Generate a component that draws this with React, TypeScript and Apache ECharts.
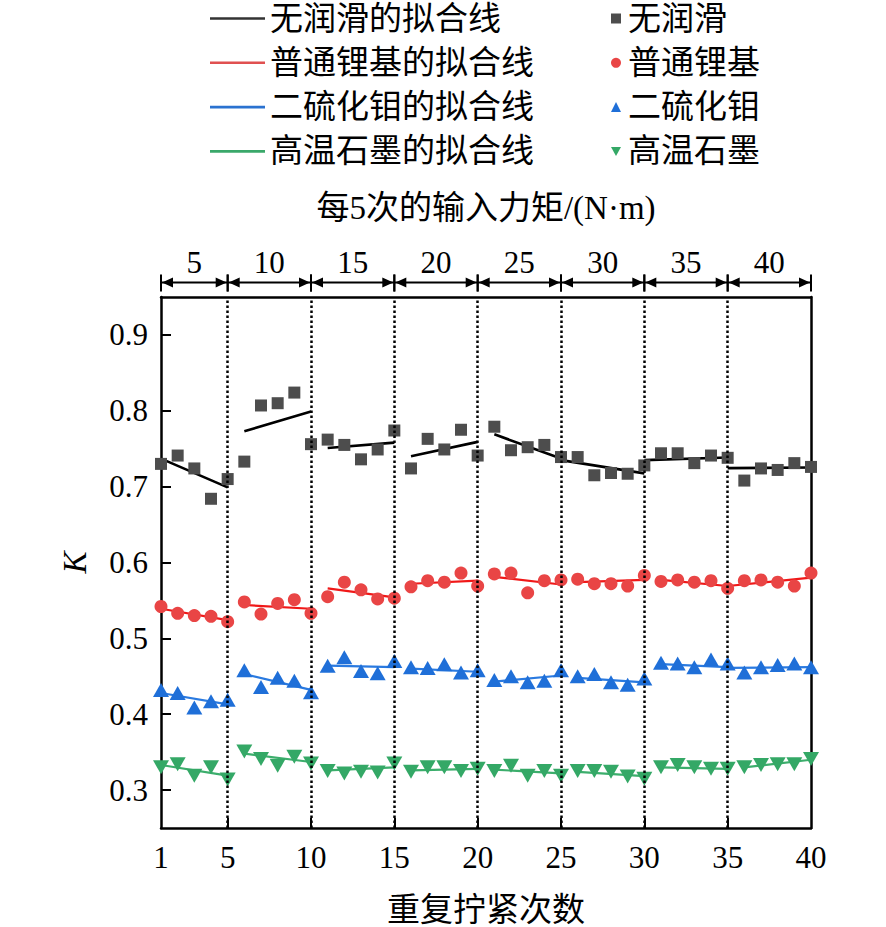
import React, { useEffect, useRef } from "react";
import * as echarts from "echarts";

// ---------- data ----------
const seriesNames = ["无润滑", "普通锂基", "二硫化钼", "高温石墨"];
const fitNames = ["无润滑的拟合线", "普通锂基的拟合线", "二硫化钼的拟合线", "高温石墨的拟合线"];

const tightenCount = Array.from({ length: 40 }, (_, i) => i + 1);

const noLube = [
  0.730, 0.741, 0.724, 0.684, 0.710, 0.733, 0.807, 0.810, 0.824, 0.756,
  0.762, 0.755, 0.736, 0.749, 0.774, 0.724, 0.763, 0.749, 0.775, 0.741,
  0.779, 0.748, 0.752, 0.755, 0.739, 0.739, 0.715, 0.718, 0.717, 0.728,
  0.744, 0.744, 0.731, 0.741, 0.738, 0.708, 0.724, 0.722, 0.731, 0.726,
];
const lithium = [
  0.542, 0.533, 0.530, 0.529, 0.522, 0.548, 0.532, 0.546, 0.551, 0.533,
  0.555, 0.574, 0.564, 0.552, 0.553, 0.568, 0.576, 0.574, 0.586, 0.569,
  0.585, 0.586, 0.560, 0.576, 0.577, 0.578, 0.572, 0.572, 0.569, 0.583,
  0.575, 0.577, 0.574, 0.576, 0.566, 0.576, 0.577, 0.574, 0.569, 0.586,
];
const mos2 = [
  0.432, 0.428, 0.409, 0.417, 0.419, 0.458, 0.436, 0.448, 0.444, 0.429,
  0.464, 0.475, 0.457, 0.454, 0.470, 0.462, 0.461, 0.466, 0.455, 0.458,
  0.445, 0.450, 0.442, 0.444, 0.458, 0.450, 0.453, 0.442, 0.439, 0.447,
  0.468, 0.467, 0.462, 0.472, 0.467, 0.455, 0.462, 0.465, 0.467, 0.462,
];
const graphite = [
  0.330, 0.334, 0.319, 0.330, 0.314, 0.351, 0.341, 0.332, 0.344, 0.335,
  0.325, 0.322, 0.324, 0.323, 0.335, 0.324, 0.330, 0.330, 0.325, 0.328,
  0.325, 0.332, 0.319, 0.325, 0.319, 0.325, 0.325, 0.324, 0.318, 0.315,
  0.330, 0.333, 0.330, 0.328, 0.328, 0.330, 0.333, 0.334, 0.334, 0.341,
];

// fit segments: [xStart, yStart, xEnd, yEnd]
const noLubeFit = [
  [1, 0.737, 5, 0.699], [6, 0.773, 10, 0.799], [11, 0.751, 15, 0.758], [16, 0.740, 20, 0.759],
  [21, 0.769, 25, 0.737], [25, 0.735, 30, 0.7175], [30, 0.735, 35, 0.7385], [35, 0.7244, 40, 0.7253],
];
const lithiumFit = [
  [1, 0.539, 5, 0.524], [6, 0.544, 10, 0.539], [11, 0.566, 15, 0.554], [16, 0.572, 20, 0.576],
  [21, 0.581, 25, 0.571], [26, 0.574, 30, 0.577], [31, 0.577, 35, 0.569], [35, 0.569, 40, 0.580],
];
const mos2Fit = [
  [1, 0.428, 5, 0.413], [6, 0.453, 10, 0.432], [11, 0.464, 15, 0.462], [16, 0.460, 20, 0.456],
  [21, 0.443, 25, 0.451], [26, 0.448, 30, 0.442], [31, 0.466, 35, 0.462], [35, 0.461, 40, 0.462],
];
const graphiteFit = [
  [1, 0.333, 5, 0.319], [6, 0.348, 10, 0.337], [11, 0.326, 15, 0.330], [16, 0.326, 20, 0.328],
  [21, 0.327, 25, 0.322], [26, 0.324, 30, 0.3185], [31, 0.330, 35, 0.328], [36, 0.330, 40, 0.340],
];

// top axis groups (input torque per 5 tightenings)
const groupBounds = [[1, 5], [5, 10], [10, 15], [15, 20], [20, 25], [25, 30], [30, 35], [35, 40]];
const groupTorques = ["5", "10", "15", "20", "25", "30", "35", "40"];
const dividerX = [5, 10, 15, 20, 25, 30, 35];

const xTickLabels = [1, 5, 10, 15, 20, 25, 30, 35, 40];
const xTicks = [5, 10, 15, 20, 25, 30, 35];
const yTickLabels = [0.3, 0.4, 0.5, 0.6, 0.7, 0.8, 0.9];
const X_MIN = 1, X_MAX = 40, Y_MIN = 0.25, Y_MAX = 0.95;

// ---------- styles ----------
const FONT = "'Liberation Serif', 'Noto Sans CJK SC', serif";
const scatterColors = ["#4d4d4d", "#e94545", "#1f6fd8", "#34a866"];
const fitColors = ["#000000", "#f01818", "#2a7ae0", "#3cae6c"];
const legendLineColors = ["#333333", "#e05050", "#2a72d0", "#3aa86a"];
const symbols = ["rect", "circle", "triangle", "triangle"];
const legendSymbols = ["rect", "circle", "triangle", "path://M0,0 L10,0 L5,9 Z"];
const symbolSizes: any[] = [12, 13, [16, 14], [16, 14]];
const symbolRotates = [0, 0, 0, 180];

function toLineData(segs: number[][]) {
  const out: any[] = [];
  segs.forEach((s) => {
    out.push([s[0], s[1]]);
    out.push([s[2], s[3]]);
    out.push([s[2], "-"]);
  });
  return out;
}

export default function App() {
  const ref = useRef<HTMLDivElement>(null);
  useEffect(() => {
    const chart = echarts.init(ref.current!, null, { renderer: "svg" });
    const values = [noLube, lithium, mos2, graphite];
    const fits = [noLubeFit, lithiumFit, mos2Fit, graphiteFit];

    const fitSeries = fits.map((f, i) => ({
      name: fitNames[i],
      type: "line",
      data: toLineData(f),
      symbol: "none",
      connectNulls: false,
      lineStyle: { color: fitColors[i], width: i === 0 ? 2.6 : 2.2 },
      itemStyle: { color: legendLineColors[i] },
      z: 3,
      silent: true,
    }));

    const scatterSeries = values.map((v, i) => ({
      name: seriesNames[i],
      type: "scatter",
      data: v.map((y, j) => [tightenCount[j], y]),
      symbol: symbols[i],
      symbolSize: symbolSizes[i],
      symbolRotate: symbolRotates[i],
      itemStyle: { color: scatterColors[i], opacity: 1 },
      z: 4,
      silent: true,
    }));

    const dimSeries = {
      type: "custom",
      name: "groups",
      data: groupBounds,
      encode: { x: [0, 1] },
      clip: false,
      silent: true,
      z: 5,
      renderItem: (params: any, api: any) => {
        const p1 = api.coord([api.value(0), Y_MAX]);
        const p2 = api.coord([api.value(1), Y_MAX]);
        const x1 = p1[0];
        const x2 = p2[0];
        const ly = p1[1] - 14.5;
        const st = { stroke: "#000", lineWidth: 2 };
        return {
          type: "group",
          children: [
            { type: "line", shape: { x1: x1, y1: ly, x2: x2, y2: ly }, style: st },
            { type: "line", shape: { x1: x1, y1: ly - 8, x2: x1, y2: ly + 9 }, style: st },
            { type: "line", shape: { x1: x2, y1: ly - 8, x2: x2, y2: ly + 9 }, style: st },
            { type: "polygon", shape: { points: [[x1 + 1, ly], [x1 + 12, ly - 5], [x1 + 12, ly + 5]] }, style: { fill: "#000" } },
            { type: "polygon", shape: { points: [[x2 - 1, ly], [x2 - 12, ly - 5], [x2 - 12, ly + 5]] }, style: { fill: "#000" } },
            {
              type: "text",
              style: {
                text: groupTorques[params.dataIndex],
                x: (x1 + x2) / 2,
                y: ly - 20,
                align: "center",
                verticalAlign: "middle",
                fontSize: 31,
                fontFamily: FONT,
                fill: "#000",
              },
            },
          ],
        };
      },
      markLine: {
        silent: true,
        symbol: "none",
        label: { show: false },
        lineStyle: { color: "#000", width: 2.5, type: [2.5, 2.5] },
        data: dividerX.map((x) => ({ xAxis: x })),
      },
    };

    const legendText = { fontSize: 33, lineHeight: 32, fontFamily: FONT, color: "#000" };

    const option: any = {
      animation: false,
      backgroundColor: "#fff",
      grid: { left: 161, right: 75, top: 297, bottom: 99, containLabel: false, outerBoundsMode: "none" },
      legend: [
        {
          data: fitNames.map((n) => ({ name: n, icon: "rect" })),
          orient: "vertical",
          left: 205,
          top: -3,
          itemWidth: 55,
          itemHeight: 2.6,
          itemGap: 11.3,
          selectedMode: false,
          textStyle: { ...legendText, padding: [0, 0, 0, 0] },
        },
        {
          data: seriesNames.map((n, i) => ({ name: n, icon: legendSymbols[i] })),
          orient: "vertical",
          left: 606,
          top: -3,
          itemWidth: 10,
          itemHeight: 10,
          itemGap: 11.3,
          selectedMode: false,
          textStyle: { ...legendText, padding: [0, 0, 0, 2] },
        },
      ],
      xAxis: [
        {
          type: "value",
          position: "bottom",
          min: X_MIN,
          max: X_MAX,
          axisLine: { show: true, lineStyle: { color: "#000", width: 2.5 } },
          axisTick: { show: true, inside: true, length: 10, customValues: xTicks, lineStyle: { color: "#000", width: 2 } },
          axisLabel: { customValues: xTickLabels, fontSize: 31, fontFamily: FONT, color: "#000", margin: 14 },
          splitLine: { show: false },
          name: "重复拧紧次数",
          nameLocation: "middle",
          nameGap: 65,
          nameTextStyle: { fontSize: 33, fontFamily: FONT, color: "#000" },
        },
        {
          type: "value",
          position: "top",
          min: X_MIN,
          max: X_MAX,
          axisLine: { show: true, lineStyle: { color: "#000", width: 2.5 } },
          axisTick: { show: false },
          axisLabel: { show: false },
          splitLine: { show: false },
          name: "每5次的输入力矩/(N·m)",
          nameLocation: "middle",
          nameGap: 73,
          nameTextStyle: { fontSize: 33, fontFamily: FONT, color: "#000" },
        },
      ],
      yAxis: [
        {
          type: "value",
          position: "left",
          min: Y_MIN,
          max: Y_MAX,
          axisLine: { show: true, lineStyle: { color: "#000", width: 2.5 } },
          axisTick: { show: true, inside: true, length: 10, customValues: yTickLabels, lineStyle: { color: "#000", width: 2 } },
          axisLabel: {
            customValues: yTickLabels,
            fontSize: 31,
            fontFamily: FONT,
            color: "#000",
            margin: 13,
            formatter: (v: number) => v.toFixed(1),
          },
          splitLine: { show: false },
          name: "K",
          nameLocation: "middle",
          nameGap: 70,
          nameTextStyle: { fontSize: 33, fontFamily: FONT, fontStyle: "italic", color: "#000" },
        },
        {
          type: "value",
          position: "right",
          min: Y_MIN,
          max: Y_MAX,
          axisLine: { show: true, lineStyle: { color: "#000", width: 2.5 } },
          axisTick: { show: false },
          axisLabel: { show: false },
          splitLine: { show: false },
        },
      ],
      series: [dimSeries, ...fitSeries, ...scatterSeries],
    };
    chart.setOption(option);
    return () => chart.dispose();
  }, []);
  return (
    <div
      ref={ref}
      style={{ position: "fixed", left: 0, top: 0, width: 886, height: 927, background: "#fff" }}
    />
  );
}
